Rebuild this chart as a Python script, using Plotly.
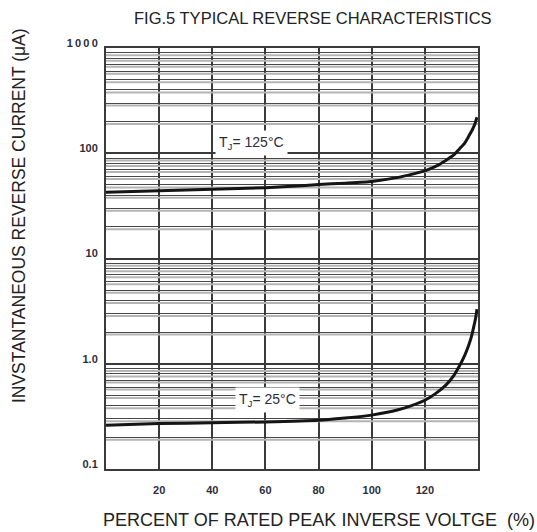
import plotly.graph_objects as go

# Percent of rated peak inverse voltage (x) and reverse current in µA (y)
pct_125 = [0, 20, 40, 60, 70, 80, 90, 100, 110, 115, 120, 124, 128, 131, 133, 135, 136.5, 138, 139, 139.6]
ir_125 = [42.5, 44, 45.5, 47, 48.5, 50.5, 52, 54, 59, 63, 68, 75, 86, 97, 110, 125, 145, 170, 195, 220]

pct_25 = [0, 20, 40, 60, 80, 90, 100, 110, 115, 120, 124, 128, 131, 133, 135, 136.5, 137.5, 138.5, 139.2, 139.6]
ir_25 = [0.26, 0.27, 0.275, 0.28, 0.29, 0.305, 0.325, 0.365, 0.4, 0.45, 0.52, 0.63, 0.78, 0.95, 1.2, 1.5, 1.8, 2.3, 2.8, 3.3]

x_ticks = [20, 40, 60, 80, 100, 120]
x_labels = ["20", "40", "60", "80", "100", "120"]
decades = [0.1, 1, 10, 100, 1000]
decade_labels = ["0.1", "1.0", "10", "100", "1\u20090\u20090\u20090"]
minor_steps = [2, 3, 4, 5, 6, 7, 8, 9]

ink = "#2e2e3a"
grid_dark = "#3a3a3a"
grid_minor = "#474747"
grid_light = "#b4b4b4"
font = "Liberation Sans, Arial, sans-serif"

# minor log-grid values: 2..9 within each decade
y_minor = [d * m for d in decades[:-1] for m in minor_steps]

# soft grey companion band just below each minor grid line
shift = 10 ** (-2.5 / 105.25)
band_x, band_y = [], []
for v in y_minor:
    band_x += [0, 140, None]
    band_y += [v * shift, v * shift, None]

fig = go.Figure()
fig.add_trace(go.Scatter(x=band_x, y=band_y, mode="lines",
                         line=dict(color=grid_light, width=2),
                         hoverinfo="skip", showlegend=False))
for xs, ys, nm in [(pct_125, ir_125, "TJ=125°C"), (pct_25, ir_25, "TJ=25°C")]:
    fig.add_trace(go.Scatter(x=xs, y=ys, mode="lines", name=nm, showlegend=False,
                             line=dict(color="#151515", width=3, shape="spline", smoothing=0.5)))

label_style = dict(showarrow=False, bgcolor="white", borderpad=3,
                   font=dict(family=font, size=14, color=ink))
fig.add_annotation(x=54.6, y=2.097, text="T<sub>J</sub>= 125°C", **label_style)
fig.add_annotation(x=60.8, y=-0.344, text="T<sub>J</sub>= 25°C", **label_style)

title_style = dict(xref="paper", yref="paper", showarrow=False,
                   xanchor="center", yanchor="middle")
fig.add_annotation(x=0.556, y=1.071, text="FIG.5 TYPICAL REVERSE CHARACTERISTICS",
                   font=dict(family=font, size=16.5, color="#222222"), **title_style)
fig.add_annotation(x=0.573, y=-0.121, text="PERCENT OF RATED PEAK INVERSE VOLTGE  (%)",
                   font=dict(family=font, size=18, color="#222222"), **title_style)
fig.add_annotation(x=-0.234, y=0.603, text="INVSTANTANEOUS REVERSE CURRENT (μA)",
                   textangle=-90, font=dict(family=font, size=17.5, color="#222222"),
                   **title_style)

fig.update_xaxes(range=[0, 140], tickmode="array", tickvals=x_ticks, ticktext=x_labels,
                 showgrid=True, gridcolor=grid_dark, gridwidth=1.5,
                 showline=True, linecolor=grid_dark, linewidth=2, mirror=True,
                 zeroline=False, ticks="", ticklabelstandoff=10,
                 tickfont=dict(family=font, size=11, color=ink, weight="bold"))
fig.update_yaxes(type="log", range=[-1, 3], tickmode="array",
                 tickvals=decades, ticktext=decade_labels,
                 showgrid=True, gridcolor=grid_dark, gridwidth=1.5,
                 minor=dict(tickmode="array", tickvals=y_minor, showgrid=True,
                            gridcolor=grid_minor, gridwidth=1, ticks=""),
                 showline=True, linecolor=grid_dark, linewidth=2, mirror=True,
                 zeroline=False, ticks="", ticklabelstandoff=4, ticklabelshift=-5,
                 tickfont=dict(family=font, size=11, color=ink, weight="bold"))

fig.update_layout(width=537, height=532, plot_bgcolor="white", paper_bgcolor="white",
                  margin=dict(l=106, r=59, t=48, b=63), showlegend=False)

fig.write_html("out.html")
